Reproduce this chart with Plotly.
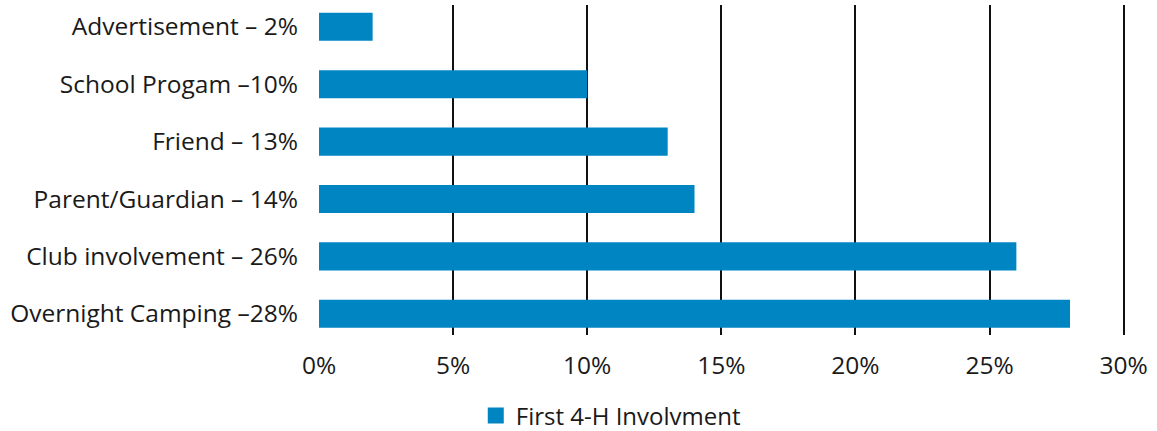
import plotly.graph_objects as go

categories = [
    "Advertisement – 2%",
    "School Progam –10%",
    "Friend – 13%",
    "Parent/Guardian – 14%",
    "Club involvement – 26%",
    "Overnight Camping –28%",
]
values = [2, 10, 13, 14, 26, 28]
tick_vals = [0, 5, 10, 15, 20, 25, 30]
tick_text = ["0%", "5%", "10%", "15%", "20%", "25%", "30%"]
series_name = "First 4-H Involvment"

FONT = "Open Sans"
BAR_COLOR = "#0085C3"

fig = go.Figure()

# Bars (legend entry drawn separately so the swatch can be larger)
fig.add_trace(
    go.Bar(
        x=values,
        y=categories,
        orientation="h",
        name=series_name,
        marker=dict(color=BAR_COLOR, line=dict(width=0)),
        width=0.49,
        showlegend=False,
    )
)

# Legend swatch
fig.add_trace(
    go.Scatter(
        x=[None],
        y=[None],
        mode="markers",
        name=series_name,
        marker=dict(symbol="square", size=22, color=BAR_COLOR),
        showlegend=True,
    )
)

fig.update_layout(
    width=1157,
    height=431,
    margin=dict(l=319, r=32, t=5, b=96, autoexpand=False),
    paper_bgcolor="white",
    plot_bgcolor="white",
    font=dict(family=FONT, size=24.5, color="#1a1a1a"),
    showlegend=True,
    legend=dict(
        orientation="h",
        x=0.362,
        xanchor="center",
        yref="container",
        y=0.035,
        yanchor="middle",
        font=dict(size=24),
        itemsizing="trace",
    ),
    xaxis=dict(
        range=[0, 30.05],
        tickvals=tick_vals,
        ticktext=tick_text,
        showgrid=True,
        gridcolor="#111111",
        gridwidth=1.6,
        zeroline=False,
        showline=False,
        ticks="",
        ticklabelstandoff=13,
        automargin=False,
    ),
    yaxis=dict(
        categoryorder="array",
        categoryarray=categories,
        range=[5.37, -0.38],
        showgrid=False,
        zeroline=False,
        showline=False,
        ticks="",
        ticklabelstandoff=20,
        automargin=False,
    ),
)

fig.write_html("out.html")
